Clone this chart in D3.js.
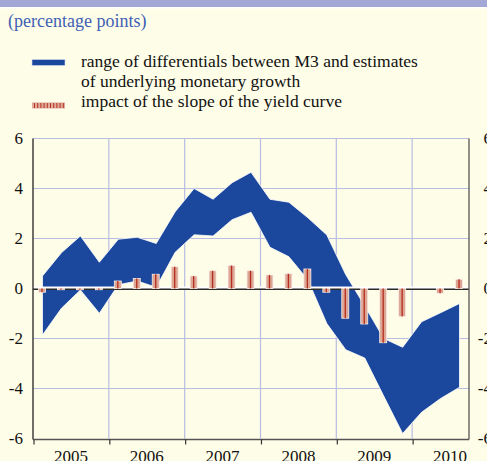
<!DOCTYPE html>
<html><head><meta charset="utf-8">
<script src="https://cdn.jsdelivr.net/npm/d3@7"></script>
<style>
body{margin:0;background:#fefde8;overflow:hidden}
svg{display:block}
svg text{font-family:"Liberation Serif","Times New Roman",Times,serif;}
</style>
</head><body>
<svg id="c" width="487" height="461"></svg>
<script>
// ---- data ----
const quarters = ["2005Q1","2005Q2","2005Q3","2005Q4","2006Q1","2006Q2","2006Q3","2006Q4",
  "2007Q1","2007Q2","2007Q3","2007Q4","2008Q1","2008Q2","2008Q3","2008Q4",
  "2009Q1","2009Q2","2009Q3","2009Q4","2010Q1","2010Q2","2010Q3"];
const rangeUpper = [0.5,1.43,2.1,1.05,1.97,2.05,1.8,3.07,4.0,3.57,4.23,4.65,3.57,3.45,2.83,2.14,0.55,-0.7,-2.0,-2.35,-1.33,-0.97,-0.6];
const rangeLower = [-1.86,-0.79,-0.06,-0.99,0.15,0.3,0.05,1.45,2.15,2.1,2.75,3.05,1.65,1.27,0.35,-1.4,-2.45,-2.78,-4.3,-5.8,-4.95,-4.4,-3.95];
const slopeImpact = [-0.15,-0.05,-0.05,-0.05,0.3,0.4,0.57,0.87,0.5,0.71,0.92,0.71,0.54,0.59,0.78,-0.15,-1.19,-1.42,-2.17,-1.12,0,-0.19,0.37];
const yearLabels = ["2005","2006","2007","2008","2009","2010"];
const yTicks = [-6,-4,-2,0,2,4,6];
const titleText = "(percentage points)";
const legendRange = ["range of differentials between M3 and estimates","of underlying monetary growth"];
const legendSlope = "impact of the slope of the yield curve";

// ---- layout ----
const svg = d3.select("#c");
const L = 33, R = 469, T = 138.5, B = 438.5;
const x = d3.scaleLinear().domain([2005, 2010.75]).range([L, R]);
const y = d3.scaleLinear().domain([-6, 6]).range([B, T]);
const qx = q => x(+q.slice(0,4) + (+q.slice(5) - 1) * 0.25 + 0.125);

const blue = "#1b479d", grid = "#b9bde3";

// background
svg.append("rect").attr("width",487).attr("height",461).attr("fill","#fefde8");
svg.append("rect").attr("width",487).attr("height",7).attr("fill","#a3a7d6");
svg.append("rect").attr("y",7).attr("width",487).attr("height",1.5).attr("fill","#ffffff");

// title
svg.append("text").attr("x",8).attr("y",27).attr("fill","#3f5fb5")
  .attr("font-size",18).text(titleText);

// legend
svg.append("rect").attr("x",32).attr("y",59.5).attr("width",33).attr("height",6)
  .attr("fill",blue).attr("stroke","#d8dcef").attr("stroke-width",0.6);
const ls = svg.append("g");
ls.append("rect").attr("x",32).attr("y",102.5).attr("width",33).attr("height",6)
  .attr("fill","#e0aa9c");
ls.append("line").attr("x1",34).attr("x2",64).attr("y1",105.5).attr("y2",105.5)
  .attr("stroke","#b8301e").attr("stroke-width",5).attr("stroke-dasharray","1,2.2");
const lt = svg.append("g").attr("font-size",17.5).attr("fill","#111");
lt.append("text").attr("x",81).attr("y",67).text(legendRange[0]);
lt.append("text").attr("x",81).attr("y",86.5).text(legendRange[1]);
lt.append("text").attr("x",81).attr("y",106.5).text(legendSlope);

// grid
const g = svg.append("g");
g.selectAll(".hg").data(yTicks.filter(d=>d!==0 && d!==-6)).enter().append("line")
  .attr("x1",L).attr("x2",R).attr("y1",d=>y(d)).attr("y2",d=>y(d))
  .attr("stroke",grid).attr("stroke-width",1.2);
const yearBounds = yearLabels.slice(1).map(d=>+d);
g.selectAll(".vg").data(yearBounds).enter().append("line")
  .attr("x1",d=>x(d)).attr("x2",d=>x(d)).attr("y1",T).attr("y2",B)
  .attr("stroke",grid).attr("stroke-width",1.2);

// area
const area = d3.area().x((d,i)=>qx(quarters[i])).y0((d,i)=>y(rangeLower[i])).y1(d=>y(d));
svg.append("path").datum(rangeUpper).attr("d",area).attr("fill",blue)
  .attr("stroke","#ffffff").attr("stroke-width",0.8).attr("stroke-linejoin","miter");

// zero line
svg.append("line").attr("x1",L).attr("x2",R).attr("y1",y(0)-0.5).attr("y2",y(0)-0.5)
  .attr("stroke","#ffffff").attr("stroke-width",3);
svg.append("line").attr("x1",L).attr("x2",R).attr("y1",y(0)+0.7).attr("y2",y(0)+0.7)
  .attr("stroke","#2a2a2a").attr("stroke-width",1.4);

// bars
const bw = 7;
const bars = svg.append("g");
const bd = slopeImpact.map((v,i)=>({q:quarters[i],v})).filter(d=>d.v!==0);
bars.selectAll("rect").data(bd).enter().append("rect")
  .attr("x",d=>qx(d.q)-bw/2-0.5).attr("width",bw)
  .attr("y",d=>Math.min(y(d.v),y(0))).attr("height",d=>Math.abs(y(d.v)-y(0)))
  .attr("fill","#dca594").attr("stroke","#fbeee6").attr("stroke-width",0.8);
bars.selectAll("line").data(bd).enter().append("line")
  .attr("x1",d=>qx(d.q)-0.5).attr("x2",d=>qx(d.q)-0.5)
  .attr("y1",d=>y(d.v)).attr("y2",y(0))
  .attr("stroke","#b42c1c").attr("stroke-width",1.3);

// axes lines
svg.append("line").attr("x1",L).attr("x2",R).attr("y1",T).attr("y2",T).attr("stroke",grid).attr("stroke-width",1.2);
svg.append("line").attr("x1",L).attr("x2",L).attr("y1",T).attr("y2",B+1).attr("stroke","#222").attr("stroke-width",1.3);
svg.append("line").attr("x1",R).attr("x2",R).attr("y1",T).attr("y2",B+1).attr("stroke","#555").attr("stroke-width",1.3);
svg.append("line").attr("x1",L).attr("x2",R).attr("y1",B+1).attr("y2",B+1).attr("stroke","#555").attr("stroke-width",1.3);
// bottom ticks
const tickYears = [2005].concat(yearBounds);
svg.selectAll(".bt").data(tickYears).enter().append("line")
  .attr("x1",d=>x(d)+1).attr("x2",d=>x(d)+1).attr("y1",B+1).attr("y2",B+6)
  .attr("stroke","#333").attr("stroke-width",1.2);

// y labels
const tl = svg.append("g").attr("font-size",17).attr("fill","#111");
tl.selectAll(".yl").data(yTicks).enter().append("text")
  .attr("x",23).attr("y",d=>y(d)+5.5).attr("text-anchor","end").text(d=>d);
tl.selectAll(".yr").data(yTicks).enter().append("text")
  .attr("x",492).attr("y",d=>y(d)+5.5).attr("text-anchor","end").text(d=>d);
// year labels
tl.selectAll(".xl").data(yearLabels).enter().append("text")
  .attr("x",d=>x(+d+0.5)).attr("y",462).attr("text-anchor","middle").text(d=>d);
</script>
</body></html>
